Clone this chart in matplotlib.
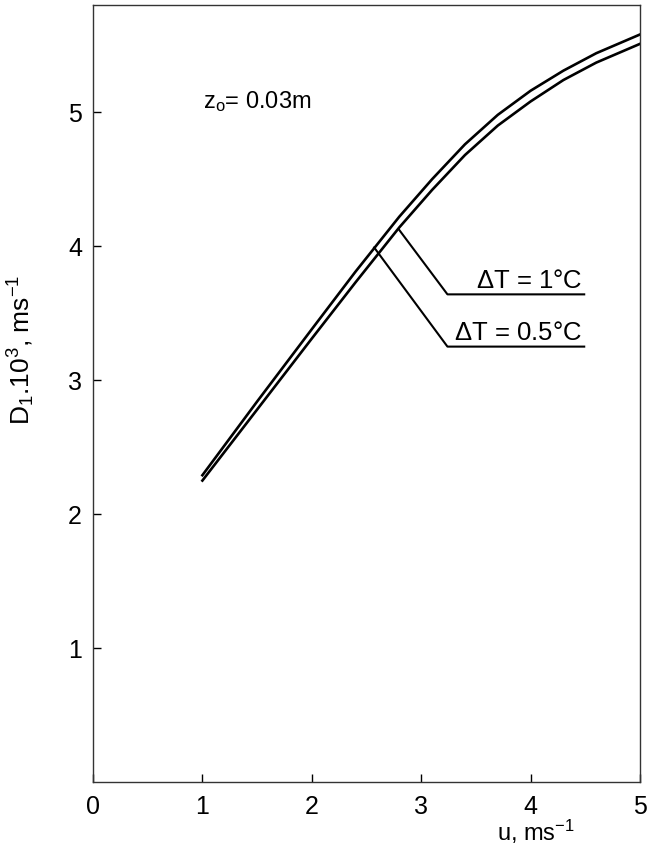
import matplotlib.pyplot as plt
import numpy as np

plt.rcParams['font.family'] = ['Liberation Sans', 'DejaVu Sans']
plt.rcParams['mathtext.fontset'] = 'custom'
plt.rcParams['mathtext.rm'] = 'Liberation Sans'
plt.rcParams['mathtext.it'] = 'Liberation Sans'

# wind speed u (m/s) and D1*10^3 (m/s) for the two temperature differences
u = [1.0, 1.5, 2.0, 2.4, 2.8, 3.1, 3.4, 3.7, 4.0, 4.3, 4.6, 5.0]
d_half = [2.29, 2.84, 3.38, 3.81, 4.22, 4.50, 4.76, 4.98, 5.16, 5.31, 5.44, 5.58]
d_one = [2.25, 2.78, 3.31, 3.73, 4.14, 4.42, 4.68, 4.90, 5.08, 5.24, 5.37, 5.51]

xticks = [0, 1, 2, 3, 4, 5]
yticks = [1, 2, 3, 4, 5]

fig = plt.figure(figsize=(6.48, 8.5), dpi=100)
ax = fig.add_axes([93 / 648, 68 / 850, 547 / 648, 777 / 850])

ax.plot(u, d_half, color='black', lw=1.9, solid_joinstyle='round')
ax.plot(u, d_one, color='black', lw=1.9, solid_joinstyle='round')

# leader lines for the labels
ax.plot([2.80, 3.24, 4.49], [4.12, 3.64, 3.64], color='black', lw=1.5)
ax.plot([2.57, 3.24, 4.49], [3.99, 3.25, 3.25], color='black', lw=1.5)
ax.text(4.47, 3.69, '$\\Delta$T = 1°C', ha='right', va='baseline', fontsize=18.5)
ax.text(4.47, 3.30, '$\\Delta$T = 0.5°C', ha='right', va='baseline', fontsize=18.5)
ax.text(1.01, 5.03, 'z$_\\mathrm{o}$= 0.03m', ha='left', va='baseline', fontsize=17)

ax.set_xlim(0, 5)
ax.set_ylim(0, 5.8)
ax.set_xticks(xticks)
ax.set_yticks(yticks)
ax.tick_params(direction='in', length=6, labelsize=18, width=1)
ax.tick_params(axis='x', pad=9)
ax.tick_params(axis='y', pad=8)
for s in ax.spines.values():
    s.set_linewidth(1)
    s.set_color('#333333')

ax.set_xlabel('u, ms$^{-1}$', fontsize=17)
ax.xaxis.set_label_coords(0.81, -0.046)
ax.set_ylabel('D$_1$.10$^3$, ms$^{-1}$', fontsize=19)
ax.yaxis.set_label_coords(-0.102, 0.556)

fig.savefig('out.png', dpi=100)
